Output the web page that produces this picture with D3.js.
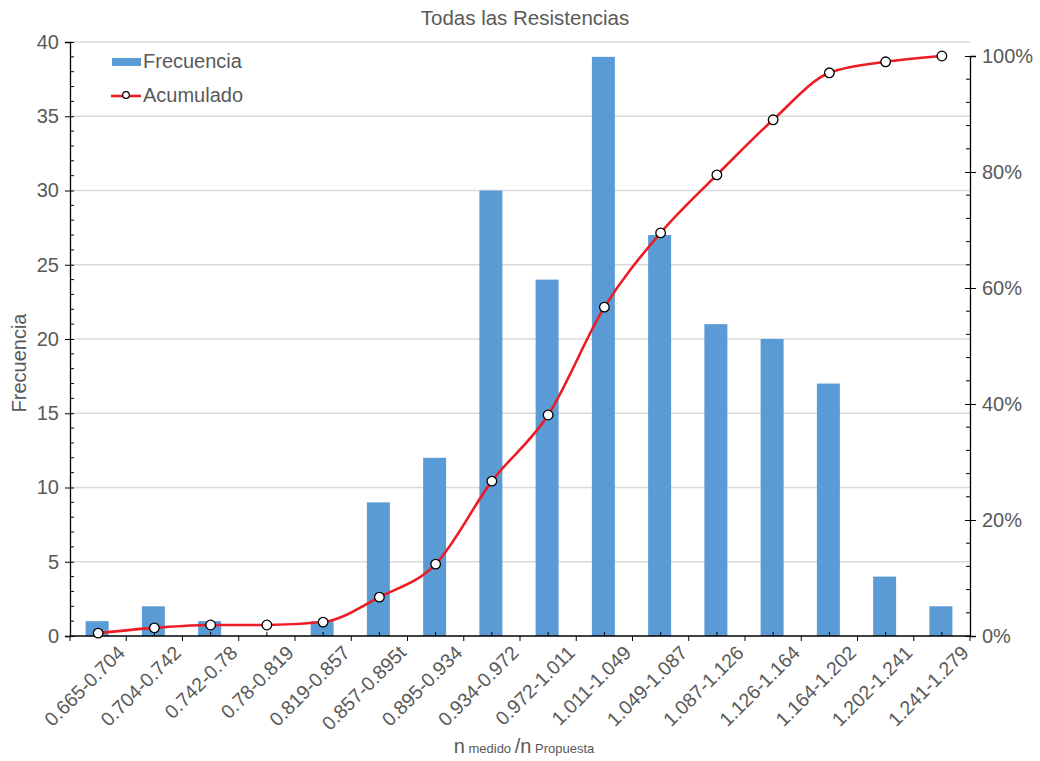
<!DOCTYPE html>
<html><head><meta charset="utf-8">
<script src="https://cdn.jsdelivr.net/npm/d3@7"></script>
<style>body{margin:0;background:#fff}svg{font-family:"Liberation Sans",Arial,sans-serif}</style>
</head><body><svg id="c" width="1040" height="761"></svg>
<script>
const categories = ["0.665-0.704","0.704-0.742","0.742-0.78","0.78-0.819","0.819-0.857","0.857-0.895t","0.895-0.934","0.934-0.972","0.972-1.011","1.011-1.049","1.049-1.087","1.087-1.126","1.126-1.164","1.164-1.202","1.202-1.241","1.241-1.279"];
const frecuencia = [1,2,1,0,1,9,12,30,24,39,27,21,20,17,4,2];
const acumulado = [0.5,1.4,1.9,1.9,2.4,6.7,12.4,26.7,38.1,56.7,69.5,79.5,89.0,97.1,99.0,100];
const leftTicks = [0,5,10,15,20,25,30,35,40];
const rightTicks = [0,20,40,60,80,100];

const svg = d3.select("#c");
const txt = "#595959";
const L = 70, R = 970, B = 636;
const x = d3.scaleBand().domain(categories).range([L, R]);
const yL = d3.scaleLinear().domain([0, 40]).range([B, 42]);
const yR = d3.scaleLinear().domain([0, 100]).range([B, 56]);

// grid
svg.append("g").selectAll("line").data(leftTicks.slice(1)).join("line")
  .attr("x1", L).attr("x2", R).attr("y1", d => yL(d)).attr("y2", d => yL(d))
  .attr("stroke", "#d9d9d9").attr("stroke-width", 1.3);

// bars
const bw = 23;
svg.append("g").selectAll("rect").data(frecuencia).join("rect")
  .attr("x", (d, i) => x(categories[i]) + x.bandwidth() / 2 - bw / 2 - 1)
  .attr("width", bw)
  .attr("y", d => yL(d)).attr("height", d => B - yL(d))
  .attr("fill", "#5b9bd5");

// left axis
const gL = svg.append("g").attr("transform", `translate(${L},0)`);
gL.call(d3.axisLeft(yL).tickValues(leftTicks).tickSize(5).tickPadding(6).tickFormat(d3.format("d")));
gL.append("g").selectAll("line").data(d3.range(0, 41).filter(v => v % 5 !== 0)).join("line")
  .attr("x1", 0).attr("x2", 4).attr("y1", d => yL(d)).attr("y2", d => yL(d)).attr("stroke", "#000");
gL.selectAll(".tick line").attr("x2", 4).attr("x1", -5);

// right axis
const gR = svg.append("g").attr("transform", `translate(${R},0)`);
gR.call(d3.axisRight(yR).tickValues(rightTicks).tickSize(6).tickPadding(6).tickFormat(d => d + "%"));
gR.selectAll(".tick line").attr("x1", -5);
gR.append("g").selectAll("line").data(d3.range(0, 101, 4).filter(v => v % 20 !== 0)).join("line")
  .attr("x1", 0).attr("x2", -4).attr("y1", d => yR(d)).attr("y2", d => yR(d)).attr("stroke", "#000");

// bottom axis
const gB = svg.append("g").attr("transform", `translate(0,${B})`);
gB.append("line").attr("x1", L).attr("x2", R).attr("stroke", "#000").attr("stroke-width", 1.3);
const bounds = categories.map(c => x(c)).concat([R]);
gB.selectAll("line.mj").data(bounds).join("line").attr("class", "mj")
  .attr("x1", d => d).attr("x2", d => d).attr("y1", 0).attr("y2", 5).attr("stroke", "#000");
gB.selectAll("line.mn").data(categories).join("line").attr("class", "mn")
  .attr("x1", d => x(d) + x.bandwidth() / 2).attr("x2", d => x(d) + x.bandwidth() / 2)
  .attr("y1", 0).attr("y2", -4).attr("stroke", "#000");
gB.selectAll("text").data(categories).join("text")
  .attr("transform", d => `translate(${x(d) + x.bandwidth() / 2 + 28},18) rotate(-45)`)
  .attr("text-anchor", "end").attr("fill", txt).attr("font-size", 19.5).text(d => d);

svg.selectAll(".domain").attr("stroke", "#000").attr("stroke-width", 1.3);
svg.selectAll(".tick line").attr("stroke", "#000");
svg.selectAll(".tick text").attr("fill", txt).attr("font-size", 20);

// line
const pts = acumulado.map((v, i) => [x(categories[i]) + x.bandwidth() / 2, yR(v)]);
svg.append("path").attr("d", d3.line().curve(d3.curveMonotoneX)(pts))
  .attr("fill", "none").attr("stroke", "#ed1c24").attr("stroke-width", 2.6);
svg.append("g").selectAll("circle").data(pts).join("circle")
  .attr("cx", d => d[0]).attr("cy", d => d[1]).attr("r", 4.8)
  .attr("fill", "#fff").attr("stroke", "#000").attr("stroke-width", 1.3);

// title
svg.append("text").attr("x", 525).attr("y", 25).attr("text-anchor", "middle")
  .attr("fill", txt).attr("font-size", 20.5).text("Todas las Resistencias");
// y title
svg.append("text").attr("transform", "translate(26,363) rotate(-90)").attr("text-anchor", "middle")
  .attr("fill", txt).attr("font-size", 20).text("Frecuencia");
// x title
const xt = svg.append("text").attr("x", 524).attr("y", 753).attr("text-anchor", "middle").attr("fill", txt);
xt.append("tspan").attr("font-size", 20).text("n");
xt.append("tspan").attr("font-size", 13).text(" medido ");
xt.append("tspan").attr("font-size", 20).text("/n");
xt.append("tspan").attr("font-size", 13).text(" Propuesta");

// legend
const lg = svg.append("g");
lg.append("rect").attr("x", 112).attr("y", 58).attr("width", 29).attr("height", 8).attr("fill", "#5b9bd5");
lg.append("text").attr("x", 143).attr("y", 68).attr("fill", txt).attr("font-size", 20).text("Frecuencia");
lg.append("line").attr("x1", 111).attr("x2", 141).attr("y1", 96).attr("y2", 96).attr("stroke", "#ed1c24").attr("stroke-width", 2.6);
lg.append("circle").attr("cx", 126).attr("cy", 95).attr("r", 3.3).attr("fill", "#fff").attr("stroke", "#000").attr("stroke-width", 1.2);
lg.append("text").attr("x", 143).attr("y", 102).attr("fill", txt).attr("font-size", 20).text("Acumulado");
</script></body></html>
